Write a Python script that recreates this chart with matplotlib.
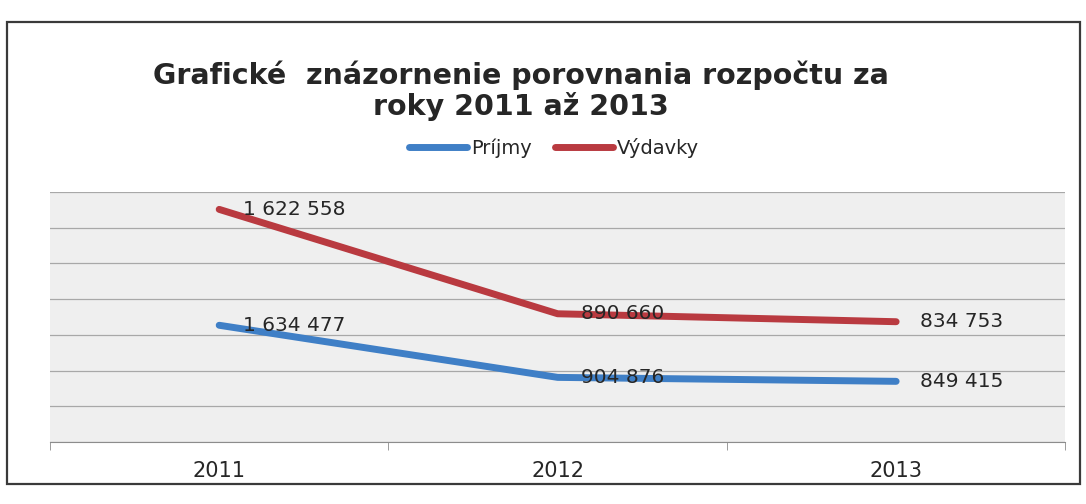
import matplotlib
matplotlib.use("Agg")
import matplotlib.pyplot as plt
import matplotlib.patches as patches
import numpy as np

years = ["2011", "2012", "2013"]
prijmy = [1634477, 904876, 849415]
vydavky = [1622558, 890660, 834753]

BLUE = "#3f7fc6"
RED = "#b93a40"
TEXT = "#262626"


def fmt(v):
    return f"{v:,}".replace(",", " ")


fig = plt.figure(figsize=(10.86, 5.04), dpi=100)
fig.patch.set_facecolor("white")

# chart frame
fig.patches.append(patches.Rectangle((7 / 1086, 20 / 504), 1073 / 1086, 462 / 504,
                                     transform=fig.transFigure, fill=False,
                                     edgecolor="#3a3a3a", linewidth=1.6))

ax = fig.add_axes([0.046, 0.123, 0.935, 0.496])
ax.set_facecolor("#efefef")

x = np.arange(len(years))
# Excel stacked line: the second series sits on top of the first
stack_top = np.array(prijmy) + np.array(vydavky)

ax.plot(x, prijmy, color=BLUE, lw=5, solid_capstyle="round", solid_joinstyle="round",
        label="Príjmy", zorder=3)
ax.plot(x, stack_top, color=RED, lw=5, solid_capstyle="round", solid_joinstyle="round",
        label="Výdavky", zorder=3)

for xi, yv, lab in zip(x, prijmy, prijmy):
    ax.annotate(fmt(lab), (xi, yv), xytext=(17, 0), textcoords="offset points",
                ha="left", va="center", fontsize=14.5, color=TEXT, zorder=4)
for xi, yv, lab in zip(x, stack_top, vydavky):
    ax.annotate(fmt(lab), (xi, yv), xytext=(17, 0), textcoords="offset points",
                ha="left", va="center", fontsize=14.5, color=TEXT, zorder=4)

ax.set_ylim(0, 3500000)
ax.set_yticks(np.arange(0, 3500001, 500000))
ax.yaxis.grid(True, color="#a8a8a8", linewidth=0.9)
ax.set_axisbelow(True)
ax.tick_params(axis="y", left=False, labelleft=False)

ax.set_xlim(-0.5, 2.5)
ax.set_xticks(x)
ax.set_xticklabels(years, fontsize=15, color=TEXT)
ax.set_xticks([-0.5, 0.5, 1.5, 2.5], minor=True)
ax.tick_params(axis="x", which="major", length=0, pad=14)
ax.tick_params(axis="x", which="minor", length=6, color="#8c8c8c", direction="out")

for side in ["top", "right", "left"]:
    ax.spines[side].set_visible(False)
ax.spines["bottom"].set_color("#8c8c8c")

fig.text(0.48, 0.851, "Grafické  znázornenie porovnania rozpočtu za",
         ha="center", va="center", fontsize=20.5, fontweight="bold", color=TEXT)
fig.text(0.48, 0.788, "roky 2011 až 2013",
         ha="center", va="center", fontsize=20.5, fontweight="bold", color=TEXT)

fig.legend(loc="center", bbox_to_anchor=(0.51, 0.706), ncol=2, frameon=False,
           fontsize=14, handlelength=3, handletextpad=0.2, columnspacing=1.2,
           labelcolor=TEXT)

fig.savefig("out.png", dpi=100)
